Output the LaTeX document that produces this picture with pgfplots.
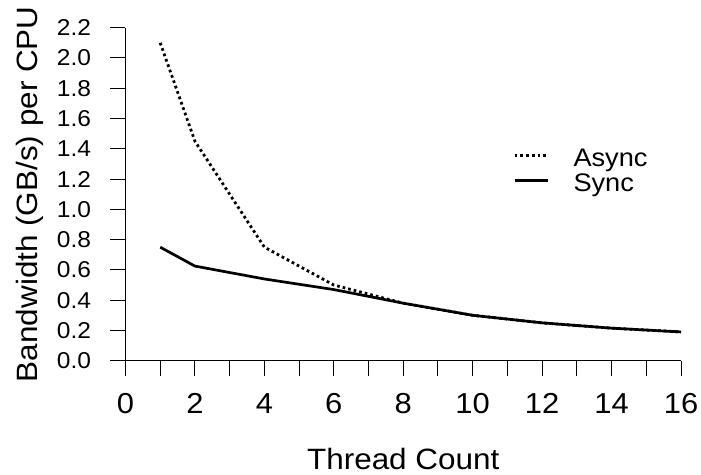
\documentclass[border=0pt]{standalone}
\usepackage{pgfplots}
\pgfplotsset{compat=1.18}
\usepackage{fontspec}
\setmainfont[FakeStretch=1.07]{Liberation Sans}
\begin{document}
\begin{tikzpicture}
\begin{axis}[
  at={(0,0)}, anchor=south west,
  scale only axis, width=555.5bp, height=333bp,
  xmin=0, xmax=16, ymin=0, ymax=2.2,
  axis lines=left, axis line style={-, line width=1bp, black},
  tick style={line width=1bp, black},
  tick align=outside,
  major tick length=15bp, minor tick length=15bp,
  xtick={0,2,...,16}, minor xtick={1,3,...,15},
  ytick={0,0.2,...,2.21},
  yticklabel={\pgfmathprintnumber[fixed,fixed zerofill,precision=1,assume math mode=true]{\tick}},
  xticklabel={\pgfmathprintnumber[assume math mode=true]{\tick}},
  y tick label style={font=\fontsize{23}{27}\selectfont, anchor=east, inner sep=0pt, xshift=-19.3bp},
  x tick label style={font=\fontsize{29}{34}\selectfont, anchor=base, inner sep=0pt, yshift=-37.3bp},
  xlabel={Thread Count},
  ylabel={Bandwidth (GB/s) per CPU},
  xlabel style={font=\fontsize{29.5}{36}\selectfont, at={(axis description cs:0.5,-0.3282)}, anchor=base, inner sep=0pt},
  ylabel style={font=\fontsize{29.5}{36}\selectfont, at={(axis description cs:-0.1593,0.5)}, anchor=base, inner sep=0pt},
  legend style={draw=none, fill=none, inner sep=0pt, outer sep=0pt,
    at={(axis cs:11.17,1.4003)}, anchor=north west,
    font=\fontsize{25.5}{30}\selectfont,
    nodes={inner sep=0pt, text height=18bp, text depth=6bp, anchor=base west},
    row sep=1bp,
    /tikz/every odd column/.append style={column sep=24bp}},
  legend cell align=left,
  legend image code/.code={\draw[#1] (0bp,11.5bp) -- (33.4bp,11.5bp);},
]
\addplot[black, line width=2.8bp, dash pattern=on 2.7bp off 3bp] coordinates {
 (1,2.1) (2,1.45) (4,0.75) (6,0.5) (8,0.38) (10,0.30) (12,0.25) (14,0.215) (16,0.19)};
\addlegendentry{Async}
\addplot[black, line width=2.7bp] coordinates {
 (1,0.75) (2,0.625) (4,0.54) (6,0.47) (8,0.38) (10,0.30) (12,0.25) (14,0.215) (16,0.19)};
\addlegendentry{Sync}
\end{axis}
\pgfresetboundingbox
\useasboundingbox (-125.5bp,-114.3bp) rectangle (575.5bp,360.7bp);
\end{tikzpicture}
\end{document}
